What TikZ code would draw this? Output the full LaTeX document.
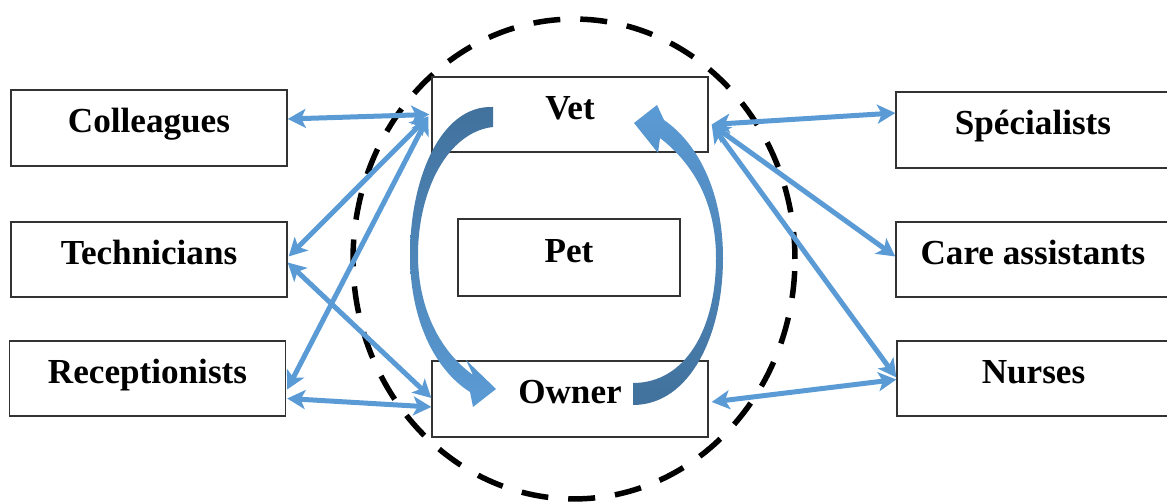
\documentclass[tikz,border=0pt]{standalone}
\usepackage{fontspec}
\setmainfont{Liberation Serif}
\usetikzlibrary{arrows.meta,calc}

\definecolor{freccia}{HTML}{5B9BD5}
\definecolor{frecciascura}{HTML}{41719C}

\begin{document}
\begin{tikzpicture}[x=0.02cm,y=-0.02cm]
\tikzstyle{box} = [draw=black!80, line width=0.8pt, fill=white, minimum width=5.52cm, minimum height=1.5cm, inner sep=0, font=\fontsize{20}{24}\selectfont\bfseries, text height=0.5cm, text depth=0.314cm]
\tikzstyle{link} = [draw=freccia, line width=0.1cm, {Stealth[length=0.36cm,width=0.38cm,inset=0.09cm]}-{Stealth[length=0.36cm,width=0.38cm,inset=0.09cm]}]

\useasboundingbox (0,0) rectangle (1167,502);

% Ellisse tratteggiata
\draw[line width=0.11cm, dash pattern=on 0.54cm off 0.4cm] (574,259) ellipse [x radius=4.42cm, y radius=4.8cm];

% Nodi centrali
\node[box] (vet) at (570,114.5) {Vet};
\node[box, minimum width=4.44cm, minimum height=1.54cm] (pet) at (569,257.5) {Pet};
\node[box, minimum height=1.52cm] (owner) at (570,399) {Owner};

% Nodi a sinistra
\node[box, minimum height=1.52cm] (coll) at (149,128) {Colleagues};
\node[box] (tech) at (149,259.5) {Technicians};
\node[box] (recep) at (147.5,378.5) {Receptionists};

% Nodi a destra
\node[box, minimum width=5.48cm, minimum height=1.52cm] (spec) at (1033,130) {Spécialists};
\node[box, minimum width=5.48cm] (care) at (1033,259.5) {Care assistants};
\node[box, minimum width=5.46cm] (nurse) at (1033.5,378.5) {Nurses};

% --- Frecce curve Vet <-> Owner ---------------------------------------
\shade[top color=frecciascura, bottom color=freccia]
  (493,107) .. controls (440,105) and (410,180) .. (410,255)
  .. controls (410,320) and (435,370) .. (470,392) -- (473,407) -- (496,389) -- (466,360) -- (473,375)
  .. controls (441,352) and (418,310) .. (418,255)
  .. controls (418,190) and (448,132) .. (493,127) -- cycle;

\shade[top color=freccia, bottom color=frecciascura]
  (633,383) -- (633,405) .. controls (690,405) and (723,335) .. (723,258)
  .. controls (723,195) and (700,145) .. (664,120) -- (657,105) -- (634,123) -- (658,153) -- (660,138)
  .. controls (695,165) and (716,205) .. (716,258)
  .. controls (716,330) and (685,383) .. (633,383) -- cycle;

% --- Frecce a sinistra ------------------------------------------------
\draw[link] ($(coll.east)+(0,-9)$) -- ($(vet.west)+(-2,0)$);
\foreach \src/\dy in {tech/-3, recep/11} {
  \draw[link] ($(\src.east)+(1,\dy)$) -- ($(vet.west)+(-3,2)$);
}
\draw[link] ($(tech.east)+(0,3)$) -- ($(owner.west)+(0,-1)$);
\draw[link] ($(recep.east)+(1,20)$) -- ($(owner.west)+(0,8)$);

% --- Frecce a destra --------------------------------------------------
\foreach \dst/\dy in {spec/-17, care/-3, nurse/-1} {
  \draw[link] ($(vet.east)+(3,10)$) -- ($(\dst.west)+(0,\dy)$);
}
\draw[link] ($(owner.east)+(3,3)$) -- ($(nurse.west)+(0,1)$);

\end{tikzpicture}
\end{document}
